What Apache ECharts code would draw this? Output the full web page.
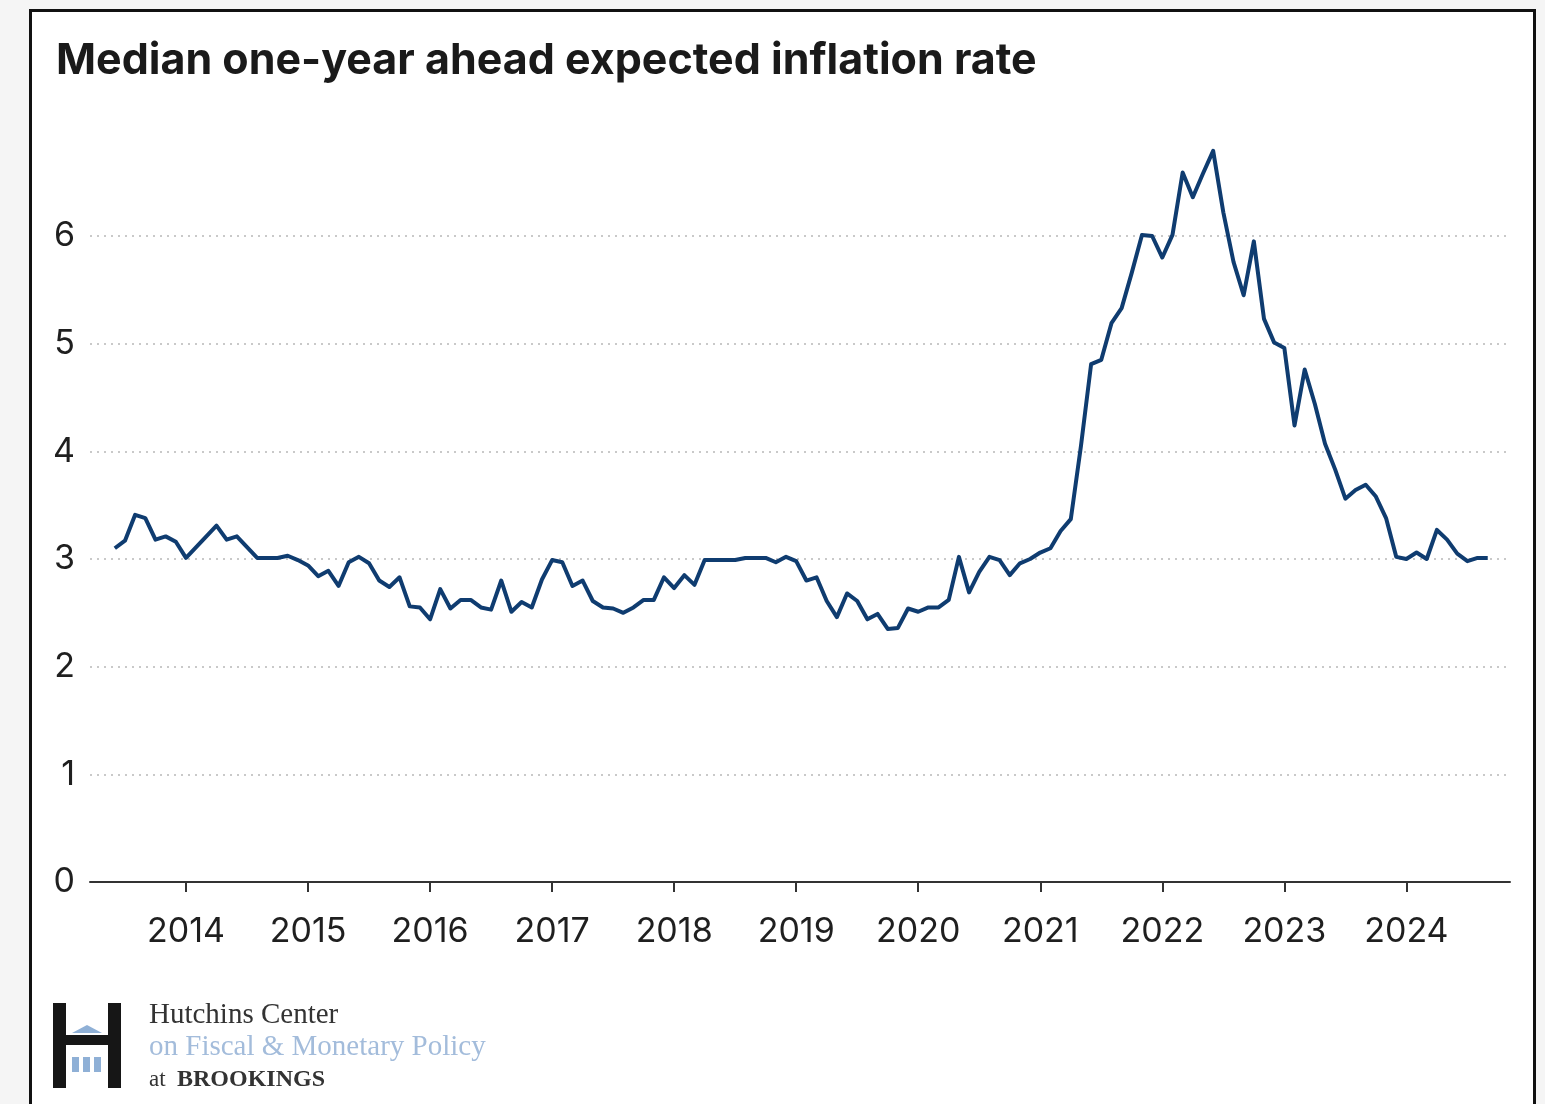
<!DOCTYPE html>
<html>
<head>
<meta charset="utf-8">
<title>Median one-year ahead expected inflation rate</title>
<script src="https://cdn.jsdelivr.net/npm/echarts@6/dist/echarts.min.js"></script>
<style>
  html, body { margin: 0; padding: 0; width: 1545px; height: 1104px; overflow: hidden; background: #f5f5f5; }
  #card { position: absolute; left: 29px; top: 9px; width: 1507px; height: 1130px; background: #fff; border: 3px solid #111; box-sizing: border-box; }
  #chart { position: absolute; left: 0; top: 0; width: 1545px; height: 1104px; }
</style>
</head>
<body>
<div id="card"></div>
<div id="chart"></div>
<script>
// Monthly survey medians, first observation June 2013
const startYear = 2013;
const startMonth = 6;
const expected = [
  3.10, 3.17, 3.41, 3.38, 3.18, 3.21, 3.16, 3.01, 3.11, 3.21,
  3.31, 3.18, 3.21, 3.11, 3.01, 3.01, 3.01, 3.03, 2.99, 2.94,
  2.84, 2.89, 2.75, 2.97, 3.02, 2.96, 2.80, 2.74, 2.83, 2.56,
  2.55, 2.44, 2.72, 2.54, 2.62, 2.62, 2.55, 2.53, 2.80, 2.51,
  2.60, 2.55, 2.81, 2.99, 2.97, 2.75, 2.80, 2.61, 2.55, 2.54,
  2.50, 2.55, 2.62, 2.62, 2.83, 2.73, 2.85, 2.76, 2.99, 2.99,
  2.99, 2.99, 3.01, 3.01, 3.01, 2.97, 3.02, 2.98, 2.80, 2.83,
  2.61, 2.46, 2.68, 2.61, 2.44, 2.49, 2.35, 2.36, 2.54, 2.51,
  2.55, 2.55, 2.62, 3.02, 2.69, 2.88, 3.02, 2.99, 2.85, 2.96,
  3.00, 3.06, 3.10, 3.26, 3.37, 4.05, 4.81, 4.85, 5.19, 5.33,
  5.66, 6.01, 6.00, 5.80, 6.01, 6.59, 6.36, 6.58, 6.79, 6.22,
  5.76, 5.45, 5.95, 5.23, 5.01, 4.96, 4.24, 4.76, 4.44, 4.07,
  3.83, 3.56, 3.64, 3.69, 3.58, 3.38, 3.02, 3.00, 3.06, 3.00,
  3.27, 3.18, 3.05, 2.98, 3.01, 3.01
];
const yearTicks = [2014, 2015, 2016, 2017, 2018, 2019, 2020, 2021, 2022, 2023, 2024];
const yTicks = [0, 1, 2, 3, 4, 5, 6];

// x position in decimal years (January = whole year)
const seriesData = expected.map((v, i) => [startYear + (startMonth - 1 + i) / 12, v]);

const chart = echarts.init(document.getElementById('chart'), null, { renderer: 'canvas' });

const darkText = '#1f1f1f';
const navy = '#0f3c70';
const logoBlue = '#8fb0d6';

chart.setOption({
  backgroundColor: 'transparent',
  animation: false,
  title: {
    text: 'Median one-year ahead expected inflation rate',
    left: 51,
    top: 35,
    textStyle: { fontFamily: 'Inter', fontWeight: 'bold', fontSize: 43, color: '#1a1a1a' }
  },
  grid: { left: 90, right: 35, top: 236, bottom: 222, containLabel: false },
  xAxis: {
    type: 'value',
    min: 2013.2134,
    max: 2024.849,
    axisLine: { show: true, lineStyle: { color: '#333', width: 2 } },
    axisTick: { show: true, customValues: yearTicks, length: 10, lineStyle: { color: '#333', width: 2 } },
    axisLabel: {
      customValues: yearTicks,
      margin: 33,
      fontFamily: 'Inter',
      fontSize: 34,
      color: darkText,
      formatter: v => String(Math.round(v))
    },
    splitLine: { show: false }
  },
  yAxis: {
    type: 'value',
    min: 0,
    max: 6,
    interval: 1,
    axisLine: { show: false },
    axisTick: { show: false },
    axisLabel: { margin: 15, fontFamily: 'Inter', fontSize: 34, color: darkText },
    splitLine: { show: true, lineStyle: { color: '#c9c9c9', width: 2, type: [2, 5] } }
  },
  series: [{
    type: 'line',
    data: seriesData,
    showSymbol: false,
    clip: false,
    lineStyle: { color: navy, width: 4, join: 'round' }
  }],
  graphic: [
    // Hutchins Center "H" mark
    { type: 'rect', shape: { x: 53, y: 1003, width: 13, height: 85 }, style: { fill: '#161616' } },
    { type: 'rect', shape: { x: 108, y: 1003, width: 13, height: 85 }, style: { fill: '#161616' } },
    { type: 'rect', shape: { x: 66, y: 1035, width: 42, height: 10 }, style: { fill: '#161616' } },
    { type: 'polygon', shape: { points: [[72, 1033], [87, 1025], [102, 1033]] }, style: { fill: logoBlue } },
    { type: 'rect', shape: { x: 72, y: 1057, width: 7, height: 15 }, style: { fill: logoBlue } },
    { type: 'rect', shape: { x: 83, y: 1057, width: 7, height: 15 }, style: { fill: logoBlue } },
    { type: 'rect', shape: { x: 94, y: 1057, width: 7, height: 15 }, style: { fill: logoBlue } },
    { type: 'text', style: { text: 'Hutchins Center', x: 149, y: 1015, verticalAlign: 'middle', font: '29px "Liberation Serif"', fill: '#333' } },
    { type: 'text', style: { text: 'on Fiscal & Monetary Policy', x: 149, y: 1047, verticalAlign: 'middle', font: '29px "Liberation Serif"', fill: '#a3bcdb' } },
    { type: 'text', style: { text: 'at', x: 149, y: 1080, verticalAlign: 'middle', font: '23px "Liberation Serif"', fill: '#333' } },
    { type: 'text', style: { text: 'BROOKINGS', x: 177, y: 1080, verticalAlign: 'middle', font: 'bold 24px "Liberation Serif"', fill: '#333' } }
  ]
});
</script>
</body>
</html>
